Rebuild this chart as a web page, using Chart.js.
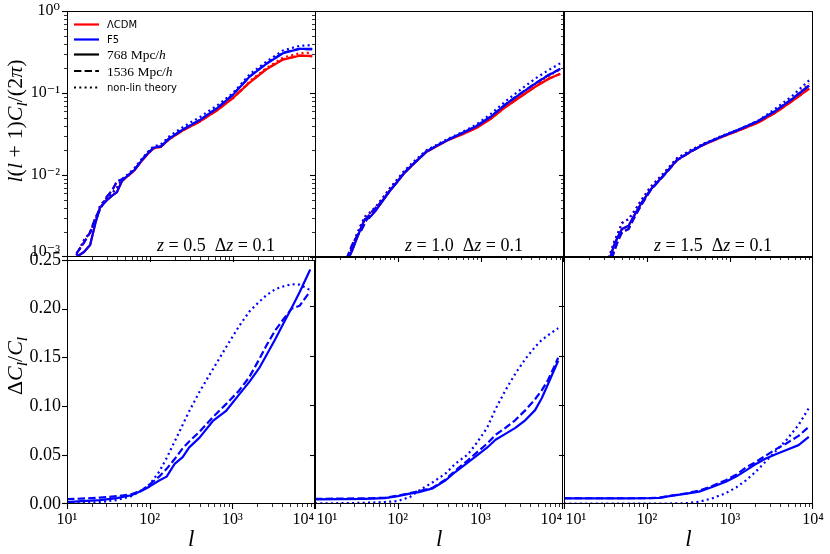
<!DOCTYPE html>
<html>
<head>
<meta charset="utf-8">
<title>Convergence power spectra, LCDM vs F5</title>
<script src="https://cdn.jsdelivr.net/npm/chart.js@4.4.1/dist/chart.umd.min.js"></script>
<style>
  html, body { margin: 0; padding: 0; background: #fff; }
  #fig { position: relative; width: 830px; height: 554px; overflow: hidden; background: #fff; }
  #fig canvas { position: absolute; }
</style>
</head>
<body>
<div id="fig"></div>
<script>
// values

// top row: l(l+1)C_l/(2pi), z = 0.5
var ell05 = [13, 16, 19, 22, 25, 30, 35, 40, 46, 55, 65, 80, 95, 110, 135, 170, 250, 400, 650, 1000, 1600, 2500, 4000, 6300, 9000];
var lcdm768_05 = [1.0e-3, 1.15e-3, 1.4e-3, 2.6e-3, 4.0e-3, 4.9e-3, 5.6e-3, 6.2e-3, 8.4e-3, 9.9e-3, 0.0114, 0.015, 0.0182, 0.0212, 0.022, 0.0272, 0.035, 0.045, 0.062, 0.087, 0.135, 0.193, 0.255, 0.285, 0.283];
var lcdm1536_05 = [1.1e-3, 1.5e-3, 2.0e-3, 3.0e-3, 3.8e-3, 5.4e-3, 6.5e-3, 8.3e-3, 8.8e-3, 9.8e-3, 0.0116, 0.015, 0.0184, 0.021, 0.022, 0.0275, 0.035, 0.045, 0.062, 0.087, 0.136, 0.195, 0.258, 0.285, 0.28];
var lcdmTh_05 = [1.05e-3, 1.6e-3, 2.0e-3, 2.8e-3, 4.2e-3, 5.2e-3, 6.0e-3, 7.0e-3, 8.8e-3, 0.0102, 0.012, 0.0156, 0.019, 0.0218, 0.0228, 0.028, 0.0355, 0.046, 0.064, 0.086, 0.14, 0.2, 0.27, 0.305, 0.31];
var f5768_05 = [1.0e-3, 1.15e-3, 1.4e-3, 2.6e-3, 4.0e-3, 4.9e-3, 5.6e-3, 6.2e-3, 8.5e-3, 0.01, 0.0115, 0.0152, 0.0185, 0.0215, 0.0223, 0.0278, 0.036, 0.047, 0.066, 0.095, 0.16, 0.225, 0.305, 0.345, 0.345];
var f51536_05 = [1.1e-3, 1.5e-3, 2.0e-3, 3.0e-3, 3.8e-3, 5.4e-3, 6.5e-3, 8.4e-3, 8.9e-3, 0.01, 0.0117, 0.0153, 0.0186, 0.0214, 0.0224, 0.028, 0.036, 0.047, 0.066, 0.096, 0.16, 0.228, 0.31, 0.345, 0.34];
var f5Th_05 = [1.05e-3, 1.6e-3, 2.0e-3, 2.8e-3, 4.2e-3, 5.2e-3, 6.0e-3, 7.0e-3, 8.9e-3, 0.0103, 0.0121, 0.0158, 0.0193, 0.0223, 0.0235, 0.0295, 0.0385, 0.051, 0.071, 0.1, 0.17, 0.24, 0.33, 0.375, 0.385];

// top row, z = 1.0
var ell10 = [24, 28, 32, 36, 40, 45, 53, 65, 80, 95, 120, 160, 220, 320, 420, 600, 870, 1300, 2000, 3000, 4500, 6500, 9000];
var lcdm768_10 = [8.5e-4, 1.2e-3, 1.7e-3, 2.3e-3, 2.9e-3, 3.0e-3, 3.6e-3, 4.8e-3, 6.4e-3, 7.9e-3, 0.0106, 0.0141, 0.0191, 0.0236, 0.0272, 0.0315, 0.0372, 0.048, 0.068, 0.09, 0.119, 0.148, 0.172];
var lcdm1536_10 = [9.5e-4, 1.4e-3, 1.8e-3, 2.1e-3, 2.6e-3, 3.3e-3, 3.9e-3, 4.9e-3, 6.5e-3, 8.0e-3, 0.0107, 0.0142, 0.0192, 0.0237, 0.0273, 0.0316, 0.0374, 0.0483, 0.0684, 0.0905, 0.12, 0.149, 0.171];
var lcdmTh_10 = [9e-4, 1.3e-3, 1.9e-3, 2.5e-3, 3.1e-3, 3.4e-3, 4.0e-3, 5.2e-3, 6.9e-3, 8.5e-3, 0.0112, 0.0148, 0.0197, 0.024, 0.0276, 0.0323, 0.0387, 0.0505, 0.071, 0.095, 0.127, 0.16, 0.195];
var f5768_10 = [8.5e-4, 1.2e-3, 1.7e-3, 2.3e-3, 2.9e-3, 3.0e-3, 3.6e-3, 4.8e-3, 6.4e-3, 7.9e-3, 0.0107, 0.0142, 0.0193, 0.0238, 0.0275, 0.0325, 0.039, 0.051, 0.073, 0.098, 0.13, 0.165, 0.197];
var f51536_10 = [9.5e-4, 1.4e-3, 1.8e-3, 2.1e-3, 2.6e-3, 3.3e-3, 3.9e-3, 4.9e-3, 6.5e-3, 8.0e-3, 0.0108, 0.0143, 0.0194, 0.0239, 0.0276, 0.0327, 0.0393, 0.0515, 0.0735, 0.099, 0.131, 0.166, 0.196];
var f5Th_10 = [9e-4, 1.3e-3, 1.9e-3, 2.5e-3, 3.1e-3, 3.4e-3, 4.0e-3, 5.2e-3, 6.9e-3, 8.5e-3, 0.0113, 0.015, 0.02, 0.0245, 0.0283, 0.0335, 0.041, 0.055, 0.08, 0.11, 0.15, 0.19, 0.23];

// top row, z = 1.5
var ell15 = [30, 36, 40, 45, 50, 60, 70, 85, 110, 160, 230, 350, 500, 800, 1300, 2200, 3500, 5600, 9000];
var lcdm768_15 = [6.5e-4, 1.0e-3, 1.38e-3, 1.8e-3, 2.2e-3, 2.4e-3, 3.2e-3, 4.5e-3, 6.6e-3, 0.01, 0.0152, 0.0197, 0.0238, 0.0291, 0.0351, 0.0437, 0.0572, 0.0795, 0.113];
var lcdm1536_15 = [5.5e-4, 8.5e-4, 1.15e-3, 1.6e-3, 2.0e-3, 2.2e-3, 3.0e-3, 4.3e-3, 6.5e-3, 0.0099, 0.0151, 0.0197, 0.0239, 0.0292, 0.0352, 0.0438, 0.0574, 0.0795, 0.113];
var lcdmTh_15 = [7.5e-4, 1.1e-3, 1.5e-3, 2.0e-3, 2.6e-3, 2.9e-3, 3.6e-3, 4.9e-3, 7.1e-3, 0.0106, 0.016, 0.0205, 0.0244, 0.0298, 0.0358, 0.045, 0.06, 0.084, 0.13];
var f5768_15 = [6.5e-4, 1.0e-3, 1.38e-3, 1.8e-3, 2.2e-3, 2.4e-3, 3.2e-3, 4.5e-3, 6.6e-3, 0.01, 0.0153, 0.0198, 0.024, 0.0295, 0.036, 0.0455, 0.06, 0.084, 0.123];
var f51536_15 = [5.5e-4, 8.5e-4, 1.15e-3, 1.6e-3, 2.0e-3, 2.2e-3, 3.0e-3, 4.3e-3, 6.5e-3, 0.0099, 0.0152, 0.0198, 0.0241, 0.0296, 0.0362, 0.0458, 0.0605, 0.085, 0.124];
var f5Th_15 = [7.5e-4, 1.1e-3, 1.5e-3, 2.0e-3, 2.6e-3, 2.9e-3, 3.6e-3, 4.9e-3, 7.1e-3, 0.0106, 0.016, 0.0205, 0.0245, 0.03, 0.0363, 0.0462, 0.064, 0.092, 0.143];

// bottom row: Delta C_l / C_l of F5
var ellD05 = [10, 15, 25, 40, 60, 80, 100, 130, 160, 200, 250, 300, 400, 580, 830, 1200, 1600, 2100, 2600, 3300, 4200, 5200, 6500, 8700];
var dC768_05 = [0.002, 0.003, 0.004, 0.006, 0.009, 0.0135, 0.018, 0.024, 0.028, 0.041, 0.048, 0.058, 0.068, 0.085, 0.095, 0.112, 0.125, 0.139, 0.153, 0.169, 0.186, 0.201, 0.217, 0.24];
var dC1536_05 = [0.005, 0.0055, 0.0065, 0.008, 0.01, 0.014, 0.02, 0.028, 0.036, 0.046, 0.057, 0.064, 0.074, 0.089, 0.102, 0.116, 0.13, 0.148, 0.163, 0.178, 0.19, 0.2, 0.203, 0.218];
var dCTh_05 = [0.0005, 0.001, 0.002, 0.004, 0.008, 0.014, 0.02, 0.033, 0.047, 0.064, 0.081, 0.095, 0.115, 0.138, 0.16, 0.182, 0.197, 0.207, 0.214, 0.22, 0.223, 0.225, 0.2245, 0.219];

var ellD10 = [10, 20, 40, 70, 100, 140, 180, 265, 380, 500, 700, 870, 1200, 1520, 2000, 2640, 3500, 4570, 5500, 6600, 8700];
var dC768_10 = [0.0047, 0.005, 0.0052, 0.006, 0.008, 0.0105, 0.012, 0.0158, 0.024, 0.0326, 0.042, 0.048, 0.057, 0.065, 0.071, 0.077, 0.085, 0.095, 0.107, 0.122, 0.145];
var dC1536_10 = [0.0052, 0.0055, 0.0057, 0.0063, 0.0085, 0.011, 0.013, 0.0165, 0.025, 0.034, 0.044, 0.051, 0.061, 0.07, 0.077, 0.085, 0.095, 0.106, 0.115, 0.126, 0.148];
var dCTh_10 = [0.0006, 0.0008, 0.0012, 0.002, 0.003, 0.007, 0.0135, 0.022, 0.031, 0.041, 0.05, 0.06, 0.077, 0.096, 0.115, 0.132, 0.147, 0.159, 0.166, 0.171, 0.178];

var ellD15 = [10, 30, 60, 100, 142, 187, 300, 425, 600, 890, 1200, 1560, 2000, 2700, 3500, 4700, 6700, 8900];
var dC768_15 = [0.0057, 0.0057, 0.0057, 0.0058, 0.0062, 0.008, 0.0105, 0.0125, 0.017, 0.0226, 0.028, 0.034, 0.04, 0.046, 0.05, 0.0545, 0.0596, 0.068];
var dC1536_15 = [0.0058, 0.0058, 0.0058, 0.0059, 0.0064, 0.0082, 0.0108, 0.0135, 0.018, 0.024, 0.03, 0.037, 0.042, 0.049, 0.055, 0.061, 0.069, 0.078];
var dCTh_15 = [0.0005, 0.0004, 0.0004, 0.0004, 0.0005, 0.0005, 0.0008, 0.0023, 0.0055, 0.011, 0.017, 0.024, 0.032, 0.043, 0.053, 0.064, 0.08, 0.097];

// ticks and labels
var xTicks = [10, 100, 1000, 10000];
var yTicksTop = [0.001, 0.01, 0.1, 1];
var yTicksBottom = [0, 0.05, 0.1, 0.15, 0.2, 0.25];
var zLabels = ['0.5', '1.0', '1.5'];
var dzLabel = '0.1';
var legendLabels = ['\u039bCDM', 'F5', '768 Mpc/h', '1536 Mpc/h', 'non-lin theory'];

// styles
var RED = '#ff0000', BLUE = '#0000ff';
var SOLID = [], DASHED = [7.4, 3.2], DOTTED = [2, 3.3];
var LW = 2.2;
var SERIF = '"Liberation Serif", "DejaVu Serif", serif';
var SANS = '"DejaVu Sans", sans-serif';

// figure geometry (page pixels)
var COL_X = [67, 315, 564], PLOT_W = 249;
var ROW_Y = [11, 257], PLOT_H = [246, 247];
var M = { left: 66, top: 14, right: 28, bottom: 50 };

function pts(ell, vals) {
  return ell.map(function (l, i) { return { x: l, y: vals[i] }; });
}

function line(ell, vals, color, dash) {
  return {
    data: pts(ell, vals),
    borderColor: color,
    borderWidth: LW,
    borderDash: dash,
    borderCapStyle: 'butt',
    borderJoinStyle: 'round',
    pointRadius: 0,
    tension: 0,
    fill: false,
    clip: 0
  };
}

// blue first so it is drawn on top of red
var panels = [
  { col: 0, row: 0, sets: [
    line(ell05, f5768_05, BLUE, SOLID), line(ell05, f51536_05, BLUE, DASHED), line(ell05, f5Th_05, BLUE, DOTTED),
    line(ell05, lcdm768_05, RED, SOLID), line(ell05, lcdm1536_05, RED, DASHED), line(ell05, lcdmTh_05, RED, DOTTED)] },
  { col: 1, row: 0, sets: [
    line(ell10, f5768_10, BLUE, SOLID), line(ell10, f51536_10, BLUE, DASHED), line(ell10, f5Th_10, BLUE, DOTTED),
    line(ell10, lcdm768_10, RED, SOLID), line(ell10, lcdm1536_10, RED, DASHED), line(ell10, lcdmTh_10, RED, DOTTED)] },
  { col: 2, row: 0, sets: [
    line(ell15, f5768_15, BLUE, SOLID), line(ell15, f51536_15, BLUE, DASHED), line(ell15, f5Th_15, BLUE, DOTTED),
    line(ell15, lcdm768_15, RED, SOLID), line(ell15, lcdm1536_15, RED, DASHED), line(ell15, lcdmTh_15, RED, DOTTED)] },
  { col: 0, row: 1, sets: [
    line(ellD05, dC768_05, BLUE, SOLID), line(ellD05, dC1536_05, BLUE, DASHED), line(ellD05, dCTh_05, BLUE, DOTTED)] },
  { col: 1, row: 1, sets: [
    line(ellD10, dC768_10, BLUE, SOLID), line(ellD10, dC1536_10, BLUE, DASHED), line(ellD10, dCTh_10, BLUE, DOTTED)] },
  { col: 2, row: 1, sets: [
    line(ellD15, dC768_15, BLUE, SOLID), line(ellD15, dC1536_15, BLUE, DASHED), line(ellD15, dCTh_15, BLUE, DOTTED)] }
];

var SUP = { '-': '\u207b', '0': '\u2070', '1': '\u00b9', '2': '\u00b2', '3': '\u00b3', '4': '\u2074' };
function powLabel(v) {
  var e = String(Math.round(Math.log10(v)));
  return '10' + e.split('').map(function (c) { return SUP[c]; }).join('');
}
var PAD = '\u2007\u2007\u2007';

function logSteps(lo, hi) {
  var out = [];
  for (var e = Math.round(Math.log10(lo)); e < Math.round(Math.log10(hi)); e++) {
    for (var m = 1; m < 10; m++) out.push({ v: m * Math.pow(10, e), major: m === 1 });
  }
  out.push({ v: hi, major: true });
  return out;
}

function seg(ctx, x1, y1, x2, y2, w) {
  ctx.lineWidth = w;
  ctx.beginPath();
  ctx.moveTo(x1, y1);
  ctx.lineTo(x2, y2);
  ctx.stroke();
}

// runs of [text, style]: r = roman, i = italic, s = italic subscript
function runFont(r, size) {
  if (r[1] === 's') return 'italic ' + (size * 0.7) + 'px ' + SERIF;
  return (r[1] === 'i' ? 'italic ' : '') + size + 'px ' + SERIF;
}
function drawRuns(ctx, runs, x, y, size, angle, align) {
  ctx.save();
  ctx.translate(x, y);
  ctx.rotate(angle);
  ctx.textBaseline = 'alphabetic';
  ctx.textAlign = 'left';
  var total = 0;
  runs.forEach(function (r) { ctx.font = runFont(r, size); total += ctx.measureText(r[0]).width; });
  var cx = align === 'center' ? -total / 2 : 0;
  runs.forEach(function (r) {
    ctx.font = runFont(r, size);
    ctx.fillText(r[0], cx, r[1] === 's' ? size * 0.22 : 0);
    cx += ctx.measureText(r[0]).width;
  });
  ctx.restore();
}

var yTitleTop = [['l', 'i'], ['(', 'r'], ['l', 'i'], [' + 1)', 'r'], ['C', 'i'], ['l', 's'], ['/(2', 'r'], ['\u03c0', 'i'], [')', 'r']];
var yTitleBottom = [['\u0394', 'r'], ['C', 'i'], ['l', 's'], ['/', 'r'], ['C', 'i'], ['l', 's']];

var legendColors = [RED, BLUE, '#000', '#000', '#000'];
var legendDash = [SOLID, SOLID, SOLID, DASHED, DOTTED];
var legendRowY = [13.5, 28.5, 43.5, 60, 76.5];

var panelDecor = {
  id: 'panelDecor',
  afterDraw: function (chart, args, o) {
    var ctx = chart.ctx, a = chart.chartArea;
    var xs = chart.scales.x, ys = chart.scales.y;
    var L = Math.round(a.left), R = Math.round(a.right), T = Math.round(a.top), B = Math.round(a.bottom);
    ctx.save();
    ctx.strokeStyle = '#000';
    ctx.fillStyle = '#000';

    // outward ticks, bottom and left
    logSteps(10, 1e4).forEach(function (t) {
      var px = Math.min(Math.round(xs.getPixelForValue(t.v)), R - 1) + 0.5;
      seg(ctx, px, B, px, B + (t.major ? 5 : 3), t.major ? 1.1 : 0.8);
    });
    var ySteps = o.log ? logSteps(1e-3, 1) : yTicksBottom.map(function (v) { return { v: v, major: true }; });
    ySteps.forEach(function (t) {
      var py = Math.min(Math.round(ys.getPixelForValue(t.v)), B - 1) + 0.5;
      seg(ctx, L, py, L - (t.major ? 5 : 3), py, t.major ? 1.1 : 0.8);
    });

    // frame
    ctx.lineWidth = 1;
    ctx.strokeRect(L + 0.5, T + 0.5, R - L - 1, B - T - 1);

    if (o.ytitle) {
      drawRuns(ctx, o.ytitle, L - 45, T + o.ytitleAt, 22, -Math.PI / 2, 'center');
    }

    if (o.z) {
      var note = [['z', 'i'], [' = ' + o.z + '  ', 'r'], ['\u0394', 'r'], ['z', 'i'], [' = ' + dzLabel, 'r']];
      drawRuns(ctx, note, L + 90, B - 6, 18, 0, 'left');
    }

    if (o.legend) {
      legendLabels.forEach(function (lab, i) {
        var y = T + legendRowY[i];
        ctx.strokeStyle = legendColors[i];
        ctx.setLineDash(legendDash[i]);
        seg(ctx, L + 7, y, L + 32, y, LW);
        ctx.setLineDash([]);
        if (lab.indexOf('Mpc') > 0) {
          drawRuns(ctx, [[lab.slice(0, -1), 'r'], ['h', 'i']], L + 40, y + 4.5, 13.5, 0, 'left');
        } else {
          ctx.font = '10px ' + SANS;
          ctx.textBaseline = 'middle';
          ctx.textAlign = 'left';
          ctx.fillText(lab, L + 40, y + 0.5);
        }
      });
    }
    ctx.restore();
  }
};

var fig = document.getElementById('fig');

panels.forEach(function (p) {
  var top = p.row === 0;
  var canvas = document.createElement('canvas');
  canvas.width = M.left + PLOT_W + M.right;
  canvas.height = M.top + PLOT_H[p.row] + M.bottom;
  canvas.style.left = (COL_X[p.col] - M.left) + 'px';
  canvas.style.top = (ROW_Y[p.row] - M.top) + 'px';
  fig.appendChild(canvas);

  new Chart(canvas.getContext('2d'), {
    type: 'line',
    data: { datasets: p.sets },
    plugins: [panelDecor],
    options: {
      responsive: false,
      animation: false,
      events: [],
      layout: { padding: { left: 0, top: M.top, right: M.right, bottom: 0 } },
      plugins: {
        legend: { display: false },
        tooltip: { enabled: false },
        panelDecor: {
          log: top,
          legend: top && p.col === 0,
          z: top ? zLabels[p.col] : null,
          ytitle: p.col === 0 ? (top ? yTitleTop : yTitleBottom) : null,
          ytitleAt: top ? 110 : 106
        }
      },
      scales: {
        x: {
          type: 'logarithmic',
          min: 10,
          max: 10000,
          grid: { display: false, drawTicks: false },
          border: { display: false },
          afterBuildTicks: function (s) { s.ticks = xTicks.map(function (v) { return { value: v }; }); },
          afterFit: function (s) { s.height = M.bottom; },
          ticks: {
            display: !top,
            autoSkip: false,
            maxRotation: 0,
            padding: 6,
            color: '#000',
            font: { family: SERIF, size: 16 },
            callback: function (v, i, ticks) {
              var s = powLabel(v);
              if (i === ticks.length - 1 && p.col < 2) s = s + PAD;
              if (i === 0 && p.col > 0) s = PAD + s;
              return s;
            }
          },
          title: {
            display: !top,
            text: 'l',
            color: '#000',
            font: { family: SERIF, style: 'italic', size: 23 },
            padding: { top: 0, bottom: 0 }
          }
        },
        y: top ? {
          type: 'logarithmic',
          min: 0.001,
          max: 1,
          grid: { display: false, drawTicks: false },
          border: { display: false },
          afterBuildTicks: function (s) { s.ticks = yTicksTop.map(function (v) { return { value: v }; }); },
          afterFit: function (s) { s.width = M.left; },
          ticks: {
            display: p.col === 0,
            autoSkip: false,
            padding: 7,
            color: '#000',
            font: { family: SERIF, size: 16, lineHeight: 0.7 },
            // lift the lowest label a little so it clears 0.25 below
            callback: function (v) { return v === yTicksTop[0] ? [powLabel(v), ''] : powLabel(v); }
          }
        } : {
          type: 'linear',
          min: 0,
          max: 0.25,
          grid: { display: false, drawTicks: false },
          border: { display: false },
          afterBuildTicks: function (s) { s.ticks = yTicksBottom.map(function (v) { return { value: v }; }); },
          afterFit: function (s) { s.width = M.left; },
          ticks: {
            display: p.col === 0,
            autoSkip: false,
            padding: 6,
            color: '#000',
            font: { family: SERIF, size: 18 },
            callback: function (v) { return v.toFixed(2); }
          }
        }
      }
    }
  });
});
</script>
</body>
</html>
